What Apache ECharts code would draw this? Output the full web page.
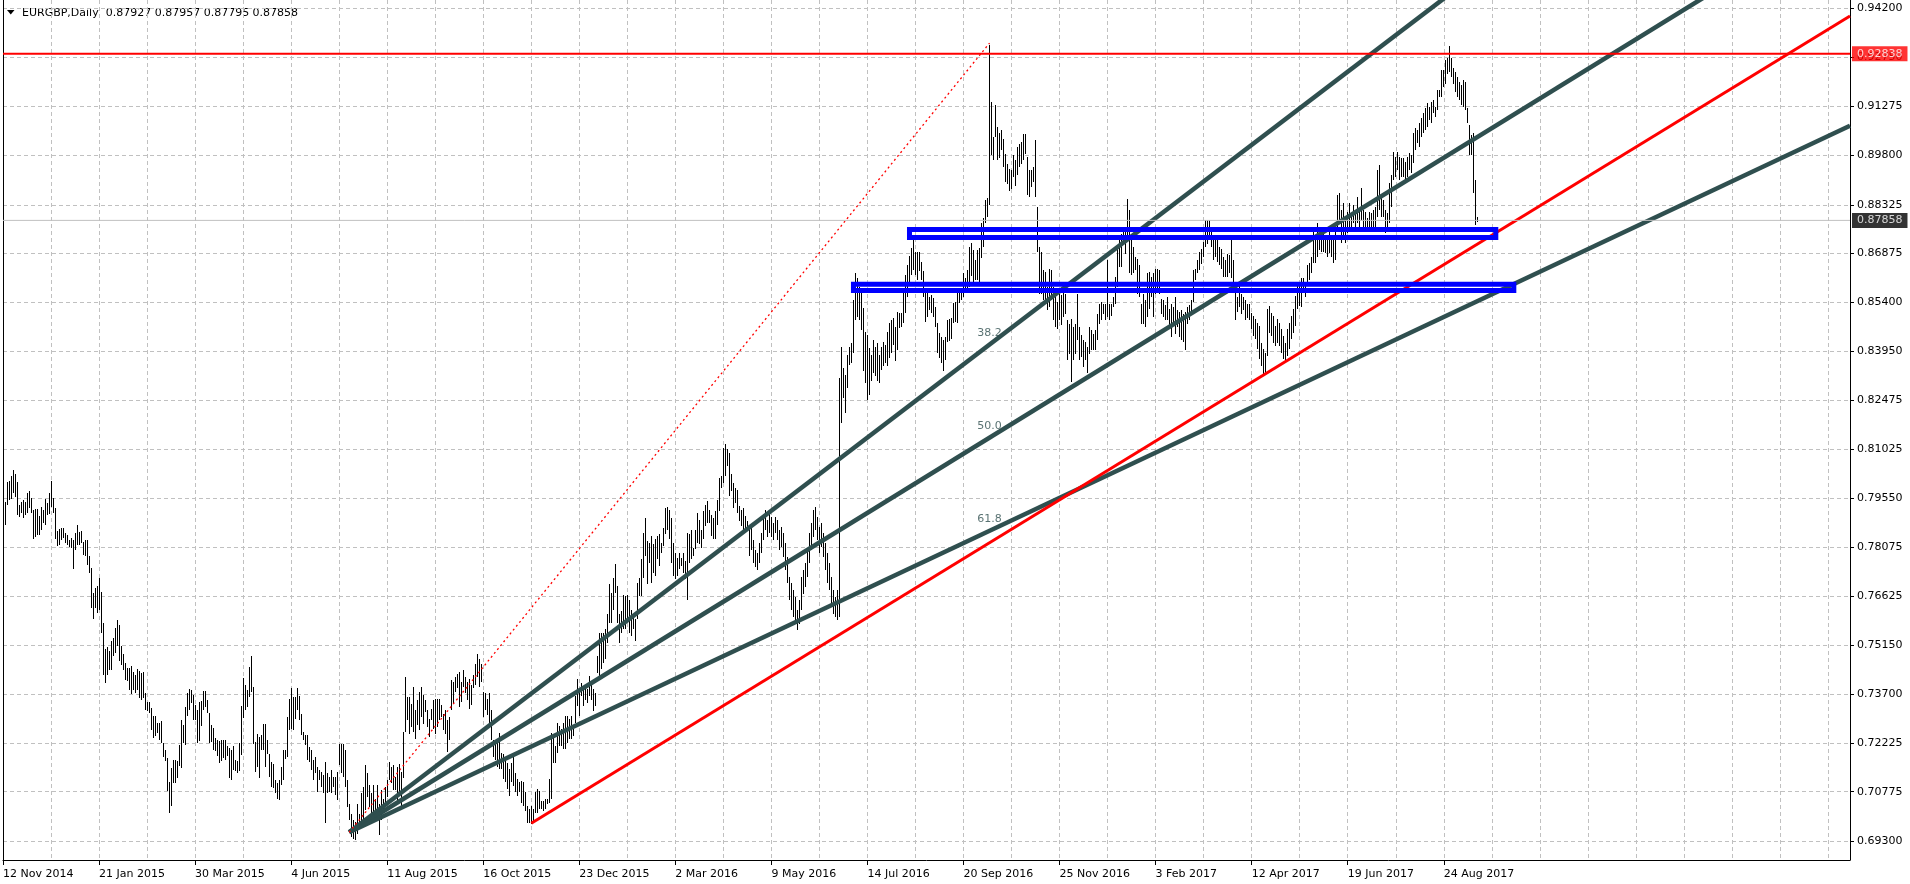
<!DOCTYPE html>
<html><head><meta charset="utf-8">
<script src="https://cdn.jsdelivr.net/npm/echarts@6/dist/echarts.min.js"></script>
<style>html,body{margin:0;padding:0;background:#fff}#c{width:1910px;height:884px}</style>
</head><body><div id="c"></div>
<script>
const chartTitle = 'EURGBP,Daily';
const lastOHLC = ['0.87927', '0.87957', '0.87795', '0.87858'];
const dateLabels = ['12 Nov 2014','21 Jan 2015','30 Mar 2015','4 Jun 2015','11 Aug 2015','16 Oct 2015','23 Dec 2015','2 Mar 2016','9 May 2016','14 Jul 2016','20 Sep 2016','25 Nov 2016','3 Feb 2017','12 Apr 2017','19 Jun 2017','24 Aug 2017'];
const yTickLabels = ['0.94200','0.92750','0.91275','0.89800','0.88325','0.86875','0.85400','0.83950','0.82475','0.81025','0.79550','0.78075','0.76625','0.75150','0.73700','0.72225','0.70775','0.69300'];
const resistanceLevel = 0.92838;
const bidPrice = 0.87858;
const fanStart = [173, 0.6956];
const fanEnd = [493, 0.9316];
const fanLevels = [38.2, 50.0, 61.8];
const redTrend = [[264, 0.6983], [923, 0.9397]];
const zoneUpper = { x: [453, 746], y: [0.87588, 0.87349] };
const zoneLower = { x: [425, 755], y: [0.85946, 0.85764] };

// daily bars [high, low]
const barsA = [[0.7890,0.7801],[0.7945,0.7875],[0.8002,0.7935],[0.8005,0.7950],[0.8022,0.7952],[0.8040,0.7970],[0.8028,0.7960],[0.8002,0.7905],[0.7935,0.7900],[0.7945,0.7910],
[0.7950,0.7895],[0.7943,0.7905],[0.7970,0.7910],[0.7977,0.7925],[0.7955,0.7910],[0.7920,0.7832],[0.7922,0.7838],[0.7922,0.7845],[0.7902,0.7845],[0.7930,0.7860],
[0.7920,0.7880],[0.7952,0.7875],[0.7940,0.7905],[0.7970,0.7908],[0.8007,0.7930],[0.7955,0.7910],[0.7925,0.7832],[0.7858,0.7811],[0.7863,0.7816],[0.7865,0.7830],
[0.7865,0.7835],[0.7852,0.7821],[0.7845,0.7816],[0.7830,0.7809],[0.7835,0.7806],[0.7830,0.7743],[0.7850,0.7801],[0.7875,0.7816],[0.7855,0.7816],[0.7858,0.7821],
[0.7823,0.7786],[0.7830,0.7781],[0.7830,0.7756],[0.7783,0.7731],[0.7746,0.7626],[0.7671,0.7594],[0.7686,0.7626],[0.7693,0.7611],[0.7716,0.7621],[0.7676,0.7552],
[0.7582,0.7427],[0.7504,0.7402],[0.7510,0.7427],[0.7497,0.7442],[0.7527,0.7442],[0.7537,0.7482],[0.7567,0.7492],[0.7591,0.7512],[0.7575,0.7467],[0.7512,0.7457],
[0.7489,0.7442],[0.7462,0.7412],[0.7447,0.7407],[0.7447,0.7382],[0.7452,0.7370],[0.7435,0.7382],[0.7427,0.7372],[0.7444,0.7382],[0.7437,0.7357],[0.7432,0.7352],
[0.7434,0.7357],[0.7372,0.7323],[0.7347,0.7318],[0.7347,0.7313],[0.7327,0.7263],[0.7303,0.7238],[0.7303,0.7243],[0.7283,0.7253],[0.7283,0.7233],[0.7288,0.7223],
[0.7223,0.7181],[0.7203,0.7168],[0.7178,0.7078],[0.7105,0.7014],[0.7148,0.7034],[0.7173,0.7103],[0.7173,0.7103],[0.7168,0.7118],[0.7218,0.7153],[0.7293,0.7148],
[0.7278,0.7223],[0.7332,0.7218],[0.7372,0.7303],[0.7384,0.7321],[0.7382,0.7342],[0.7367,0.7293],[0.7337,0.7293],[0.7323,0.7223],[0.7347,0.7228],[0.7350,0.7273],
[0.7379,0.7323],[0.7377,0.7332],[0.7352,0.7313],[0.7313,0.7223],[0.7278,0.7225],[0.7268,0.7203],[0.7238,0.7198],[0.7233,0.7183],[0.7228,0.7163],[0.7233,0.7168],
[0.7233,0.7178],[0.7231,0.7173],[0.7213,0.7183],[0.7208,0.7118],[0.7203,0.7113],[0.7213,0.7143],[0.7173,0.7138],[0.7168,0.7133],[0.7223,0.7138],[0.7335,0.7188],
[0.7417,0.7298],[0.7397,0.7323],[0.7382,0.7332],[0.7450,0.7362]];
const barsB = [[0.7482,0.7376],[0.7390,0.7221],[0.7226,0.7137],[0.7251,0.7152],[0.7241,0.7117],[0.7246,0.7201],[0.7281,0.7201],[0.7281,0.7152],[0.7231,0.7191],[0.7191,0.7122],
[0.7166,0.7092],[0.7161,0.7087],[0.7112,0.7072],[0.7102,0.7057],[0.7112,0.7052],[0.7151,0.7097],[0.7201,0.7112],[0.7201,0.7176],[0.7301,0.7181],[0.7356,0.7261],
[0.7386,0.7266],[0.7361,0.7261],[0.7361,0.7296],[0.7386,0.7321],[0.7363,0.7291],[0.7311,0.7246],[0.7256,0.7231],[0.7246,0.7216],[0.7246,0.7171],[0.7211,0.7166],
[0.7201,0.7142],[0.7171,0.7112],[0.7181,0.7132],[0.7151,0.7077],[0.7142,0.7112],[0.7137,0.7092],[0.7127,0.7072],[0.7166,0.6984],[0.7132,0.7072],[0.7122,0.7077],
[0.7142,0.7072],[0.7122,0.7092],[0.7122,0.7067],[0.7137,0.7052],[0.7221,0.7157],[0.7221,0.7132],[0.7221,0.7122],[0.7201,0.7092],[0.7112,0.7032],[0.7042,0.6992],
[0.7012,0.6942],[0.6992,0.6937],[0.6987,0.6932],[0.7042,0.6952],[0.7012,0.6967],[0.7072,0.6972],[0.7092,0.6992],[0.7156,0.7022],[0.7132,0.7062],[0.7097,0.7032],
[0.7072,0.7002],[0.7097,0.6992],[0.7057,0.7017],[0.7097,0.6992],[0.7042,0.6947],[0.7082,0.6992],[0.7057,0.7022],[0.7092,0.7032],[0.7112,0.7062],[0.7166,0.7112],
[0.7151,0.7102],[0.7156,0.7082],[0.7122,0.7082],[0.7151,0.7052],[0.7161,0.7072],[0.7137,0.7032],[0.7256,0.7117],[0.7420,0.7256],[0.7361,0.7291],[0.7361,0.7251],
[0.7341,0.7271],[0.7391,0.7256],[0.7321,0.7236],[0.7351,0.7276],[0.7376,0.7261],[0.7391,0.7301],[0.7366,0.7281],[0.7351,0.7316],[0.7321,0.7271],[0.7296,0.7241],
[0.7326,0.7291],[0.7351,0.7266],[0.7356,0.7251],[0.7356,0.7271],[0.7356,0.7291],[0.7336,0.7301],[0.7311,0.7261],[0.7321,0.7251],[0.7291,0.7196],[0.7301,0.7231],
[0.7410,0.7321],[0.7405,0.7341],[0.7420,0.7376],[0.7430,0.7386],[0.7435,0.7331],[0.7405,0.7346],[0.7440,0.7391],[0.7420,0.7371],[0.7405,0.7351],[0.7415,0.7326],
[0.7395,0.7336],[0.7425,0.7386],[0.7460,0.7396],[0.7490,0.7420],[0.7475,0.7391],[0.7460,0.7405],[0.7376,0.7301],[0.7371,0.7321],[0.7356,0.7306],[0.7371,0.7281],
[0.7321,0.7231],[0.7231,0.7181],[0.7221,0.7171],[0.7231,0.7152]];
const barsC = [[0.7254,0.7144],[0.7194,0.7144],[0.7189,0.7115],[0.7174,0.7105],[0.7164,0.7085],[0.7144,0.7065],[0.7164,0.7105],[0.7194,0.7095],[0.7134,0.7075],[0.7115,0.7065],
[0.7105,0.7075],[0.7110,0.7045],[0.7105,0.7035],[0.7075,0.7020],[0.7035,0.6985],[0.7025,0.6985],[0.7035,0.6980],[0.7025,0.6990],[0.7075,0.7015],[0.7085,0.7015],
[0.7080,0.7025],[0.7050,0.7025],[0.7050,0.7020],[0.7055,0.7025],[0.7055,0.7040],[0.7115,0.7045],[0.7254,0.7055],[0.7249,0.7164],[0.7214,0.7164],[0.7284,0.7194],
[0.7274,0.7214],[0.7264,0.7214],[0.7284,0.7204],[0.7304,0.7204],[0.7304,0.7224],[0.7294,0.7234],[0.7304,0.7234],[0.7274,0.7244],[0.7363,0.7284],[0.7413,0.7334],
[0.7383,0.7304],[0.7403,0.7363],[0.7383,0.7334],[0.7393,0.7353],[0.7383,0.7344],[0.7423,0.7363],[0.7403,0.7353],[0.7383,0.7319],[0.7373,0.7334],[0.7483,0.7433],
[0.7553,0.7423],[0.7553,0.7443],[0.7553,0.7463],[0.7563,0.7473],[0.7608,0.7523],[0.7697,0.7583],[0.7672,0.7583],[0.7717,0.7622],[0.7757,0.7672],[0.7692,0.7583],
[0.7608,0.7523],[0.7617,0.7553],[0.7667,0.7563],[0.7662,0.7563],[0.7667,0.7593],[0.7652,0.7553],[0.7622,0.7543],[0.7603,0.7563],[0.7593,0.7528],[0.7702,0.7593],
[0.7717,0.7662],[0.7772,0.7662],[0.7852,0.7717],[0.7896,0.7782],[0.7827,0.7697],[0.7822,0.7762],[0.7842,0.7702],[0.7817,0.7732],[0.7832,0.7722],[0.7842,0.7772],
[0.7847,0.7752],[0.7822,0.7792],[0.7866,0.7812],[0.7926,0.7847],[0.7929,0.7861],[0.7921,0.7832],[0.7896,0.7762],[0.7822,0.7722],[0.7792,0.7712],[0.7777,0.7722],
[0.7792,0.7742],[0.7777,0.7752],[0.7792,0.7732],[0.7767,0.7712],[0.7852,0.7652],[0.7847,0.7762],[0.7861,0.7772],[0.7807,0.7782],[0.7861,0.7802],[0.7911,0.7822],
[0.7891,0.7817],[0.7861,0.7807],[0.7916,0.7832],[0.7936,0.7871],[0.7946,0.7881],[0.7921,0.7881],[0.7906,0.7842],[0.7896,0.7832],[0.7916,0.7832],[0.7951,0.7876],
[0.8016,0.7916],[0.8021,0.7986],[0.8106,0.8001],[0.8116,0.8021],[0.8101,0.8051],[0.8091,0.7961],[0.8026,0.7976],[0.8001,0.7926],[0.7986,0.7941],[0.7981,0.7911],
[0.7931,0.7886],[0.7921,0.7871],[0.7926,0.7861],[0.7901,0.7861],[0.7886,0.7861],[0.7871,0.7782]];
const barsD = [[0.7870,0.7800],[0.7830,0.7760],[0.7800,0.7750],[0.7790,0.7740],[0.7820,0.7760],[0.7850,0.7790],[0.7900,0.7830],[0.7920,0.7860],[0.7890,0.7840],[0.7910,0.7850],
[0.7900,0.7840],[0.7880,0.7830],[0.7900,0.7850],[0.7890,0.7830],[0.7860,0.7800],[0.7870,0.7810],[0.7850,0.7780],[0.7820,0.7740],[0.7780,0.7700],[0.7720,0.7650],
[0.7700,0.7620],[0.7680,0.7600],[0.7660,0.7580],[0.7620,0.7560],[0.7650,0.7580],[0.7720,0.7620],[0.7740,0.7670],[0.7760,0.7690],[0.7800,0.7720],[0.7850,0.7760],
[0.7880,0.7800],[0.7920,0.7840],[0.7930,0.7860],[0.7900,0.7830],[0.7870,0.7790],[0.7880,0.7810],[0.7850,0.7780],[0.7820,0.7740],[0.7790,0.7700],[0.7760,0.7680],
[0.7720,0.7640],[0.7680,0.7610],[0.7660,0.7600],[0.7680,0.7590],[0.8315,0.7600]];
const barsE = [[0.8408,0.8179],[0.8344,0.8254],[0.8324,0.8209],[0.8384,0.8284],[0.8408,0.8354],[0.8420,0.8360],[0.8548,0.8388],[0.8628,0.8488],[0.8613,0.8498],[0.8588,0.8488],
[0.8568,0.8458],[0.8523,0.8334],[0.8453,0.8299],[0.8443,0.8249],[0.8404,0.8264],[0.8384,0.8304],[0.8428,0.8329],[0.8408,0.8319],[0.8418,0.8304],[0.8384,0.8299],
[0.8408,0.8339],[0.8423,0.8349],[0.8413,0.8359],[0.8453,0.8349],[0.8478,0.8374],[0.8488,0.8389],[0.8493,0.8413],[0.8468,0.8364],[0.8513,0.8399],[0.8508,0.8463],
[0.8508,0.8468],[0.8568,0.8478],[0.8623,0.8508],[0.8653,0.8558],[0.8678,0.8598],[0.8702,0.8623],[0.8727,0.8638],[0.8692,0.8623],[0.8692,0.8608],[0.8692,0.8633],
[0.8662,0.8608],[0.8633,0.8558],[0.8568,0.8483],[0.8568,0.8498],[0.8558,0.8518],[0.8563,0.8508],[0.8553,0.8498],[0.8528,0.8468],[0.8478,0.8389],[0.8448,0.8374],
[0.8438,0.8359],[0.8428,0.8334],[0.8438,0.8369],[0.8488,0.8423],[0.8490,0.8425],[0.8495,0.8430],[0.8538,0.8478],[0.8543,0.8483],[0.8568,0.8478],[0.8578,0.8538],
[0.8578,0.8548],[0.8628,0.8558],[0.8613,0.8568],[0.8638,0.8568],[0.8707,0.8588],[0.8717,0.8618],[0.8697,0.8598],[0.8668,0.8608],[0.8697,0.8608],[0.8702,0.8598],
[0.8777,0.8672],[0.8792,0.8707],[0.8847,0.8777],[0.8852,0.8797],[0.9310,0.8832],[0.9141,0.8981],[0.9036,0.8966],[0.9131,0.9036],[0.9066,0.8966],[0.9046,0.8971]];
const barsF = [[0.9055,0.8995],[0.9030,0.8945],[0.8985,0.8900],[0.8955,0.8895],[0.8940,0.8875],[0.8935,0.8880],[0.8980,0.8915],[0.8965,0.8890],[0.9005,0.8920],[0.9015,0.8945],
[0.9020,0.8955],[0.9045,0.8965],[0.9045,0.8985],[0.8975,0.8861],[0.8935,0.8856],[0.8935,0.8885],[0.8945,0.8900],[0.9025,0.8856],[0.8826,0.8691],[0.8706,0.8567],
[0.8691,0.8567],[0.8636,0.8547],[0.8631,0.8542],[0.8587,0.8517],[0.8641,0.8527],[0.8636,0.8547],[0.8587,0.8487],[0.8567,0.8467],[0.8542,0.8462],[0.8567,0.8487],
[0.8562,0.8472],[0.8602,0.8497],[0.8567,0.8507],[0.8487,0.8367],[0.8477,0.8387],[0.8492,0.8303],[0.8467,0.8367],[0.8477,0.8387],[0.8567,0.8427],[0.8467,0.8367],
[0.8442,0.8377],[0.8427,0.8348],[0.8422,0.8367],[0.8407,0.8328],[0.8467,0.8387],[0.8457,0.8397],[0.8447,0.8397],[0.8457,0.8397],[0.8507,0.8427],[0.8537,0.8477],
[0.8542,0.8487],[0.8537,0.8507],[0.8537,0.8487],[0.8666,0.8497],[0.8537,0.8487],[0.8535,0.8500],[0.8557,0.8527],[0.8617,0.8537],[0.8706,0.8587],[0.8726,0.8646],
[0.8746,0.8646],[0.8756,0.8716],[0.8766,0.8686],[0.8851,0.8741],[0.8816,0.8627],[0.8731,0.8622],[0.8706,0.8627],[0.8676,0.8637],[0.8671,0.8567],[0.8651,0.8557],
[0.8537,0.8477],[0.8567,0.8477],[0.8547,0.8467],[0.8627,0.8497],[0.8631,0.8522],[0.8617,0.8557],[0.8627,0.8497],[0.8641,0.8567],[0.8641,0.8577],[0.8636,0.8567],
[0.8552,0.8507],[0.8547,0.8497],[0.8532,0.8487],[0.8557,0.8487],[0.8522,0.8467],[0.8537,0.8437],[0.8527,0.8477],[0.8557,0.8447],[0.8517,0.8467],[0.8512,0.8437],
[0.8517,0.8427],[0.8507,0.8422],[0.8512,0.8397],[0.8527,0.8477],[0.8532,0.8487],[0.8547,0.8507],[0.8636,0.8542],[0.8641,0.8607],[0.8666,0.8627],[0.8691,0.8637],
[0.8701,0.8656],[0.8721,0.8676],[0.8786,0.8706],[0.8786,0.8716],[0.8786,0.8726],[0.8756,0.8706],[0.8726,0.8666],[0.8731,0.8676],[0.8731,0.8661],[0.8706,0.8651],
[0.8701,0.8641],[0.8676,0.8617],[0.8666,0.8617],[0.8686,0.8617],[0.8681,0.8627],[0.8731,0.8612],[0.8666,0.8587],[0.8577,0.8487],[0.8557,0.8512],[0.8592,0.8527],
[0.8567,0.8507],[0.8557,0.8517],[0.8547,0.8487],[0.8535,0.8495],[0.8537,0.8487]];
const barsG = [[0.8510,0.8460],[0.8500,0.8440],[0.8490,0.8430],[0.8480,0.8400],[0.8470,0.8370],[0.8420,0.8350],[0.8400,0.8320],[0.8390,0.8330],[0.8520,0.8380],[0.8530,0.8450],
[0.8510,0.8440],[0.8500,0.8420],[0.8470,0.8410],[0.8490,0.8420],[0.8480,0.8410],[0.8460,0.8390],[0.8440,0.8370],[0.8420,0.8360],[0.8460,0.8380],[0.8480,0.8400],
[0.8500,0.8430],[0.8520,0.8450],[0.8560,0.8470],[0.8590,0.8520],[0.8600,0.8530],[0.8613,0.8528],[0.8613,0.8568],[0.8598,0.8558],[0.8653,0.8598],[0.8658,0.8608],
[0.8677,0.8628],[0.8757,0.8658],[0.8742,0.8658],[0.8777,0.8677],[0.8732,0.8697],[0.8757,0.8692],[0.8767,0.8692],[0.8737,0.8687],[0.8732,0.8677],[0.8757,0.8687],
[0.8737,0.8677],[0.8732,0.8658],[0.8757,0.8667],[0.8862,0.8757],[0.8867,0.8777],[0.8817,0.8717],[0.8837,0.8737],[0.8797,0.8717],[0.8812,0.8747],[0.8837,0.8757],
[0.8807,0.8757],[0.8832,0.8777],[0.8812,0.8757],[0.8857,0.8777],[0.8817,0.8767],[0.8882,0.8787],[0.8817,0.8767],[0.8812,0.8757],[0.8792,0.8757],[0.8812,0.8767],
[0.8807,0.8762],[0.8817,0.8767],[0.8827,0.8767],[0.8936,0.8797],[0.8951,0.8817],[0.8857,0.8797],[0.8847,0.8797],[0.8817,0.8747],[0.8807,0.8757],[0.8897,0.8777],
[0.8922,0.8827],[0.8991,0.8906],[0.8976,0.8916],[0.8991,0.8936],[0.8976,0.8906],[0.8971,0.8916],[0.8971,0.8916],[0.8961,0.8906],[0.8976,0.8916],[0.8986,0.8936],
[0.8981,0.8926],[0.9046,0.8956],[0.9061,0.8996],[0.9056,0.9016],[0.9076,0.9006],[0.9091,0.9036],[0.9106,0.9046],[0.9121,0.9056],[0.9136,0.9066],[0.9126,0.9086],
[0.9141,0.9076],[0.9146,0.9106],[0.9126,0.9096],[0.9175,0.9116],[0.9175,0.9155],[0.9235,0.9155],[0.9235,0.9185],[0.9265,0.9195],[0.9270,0.9225],[0.9307,0.9230],
[0.9270,0.9215],[0.9240,0.9195],[0.9230,0.9170],[0.9215,0.9155],[0.9200,0.9145],[0.9190,0.9131],[0.9205,0.9126],[0.9200,0.9116],[0.9121,0.9076],[0.9071,0.8981],
[0.9041,0.8981],[0.9046,0.8867],[0.8906,0.8772],[0.87957,0.87795]];

// ---------- build ----------
const FONT = 'DejaVu Sans';
const SLOTS = 924, LABEL_STEP = 48, GRID_STEP = 24;
const Y_MIN = 0.68731, Y_MAX = 0.94448;
const bars = [].concat(barsA, barsB, barsC, barsD, barsE, barsF, barsG);
const barData = bars.map((b, i) => [i, b[0], b[1]]);
const cats = [];
for (let i = 0; i < SLOTS; i++) cats.push(i % LABEL_STEP === 0 && dateLabels[i / LABEL_STEP] ? dateLabels[i / LABEL_STEP] : '');
const lastLabelIdx = (dateLabels.length - 1) * LABEL_STEP;

const fanSeries = fanLevels.map(r => {
  const lvl = fanEnd[1] - r / 100 * (fanEnd[1] - fanStart[1]);
  const slope = (lvl - fanStart[1]) / (fanEnd[0] - fanStart[0]);
  return {
    type: 'line', data: [[fanStart[0], fanStart[1]], [SLOTS - 1, fanStart[1] + slope * (SLOTS - 1 - fanStart[0])]],
    symbol: 'none', silent: true, z: 4, clip: true,
    lineStyle: { color: '#2F4F4F', width: 4.5, cap: 'butt' }
  };
});
const fanLabelData = fanLevels.map(r => ({ value: [fanEnd[0], fanEnd[1] - r / 100 * (fanEnd[1] - fanStart[1])], name: r.toFixed(1) }));

function rectPath(z) {
  return [[z.x[0], z.y[0]], [z.x[1], z.y[0]], [z.x[1], z.y[1]], [z.x[0], z.y[1]], [z.x[0], z.y[0]]];
}
function zoneSeries(z) {
  return { type: 'line', data: rectPath(z), symbol: 'none', silent: true, z: 6, clip: false,
    lineStyle: { color: '#0000FF', width: 5, join: 'miter', cap: 'square' } };
}
function hLine(price, color, width) {
  return { type: 'line', data: [[0, price], [SLOTS - 1, price]], symbol: 'none', silent: true, z: 5, clip: false,
    lineStyle: { color: color, width: width, type: 'solid' } };
}
function priceTag(price, bg) {
  return { type: 'scatter', data: [[SLOTS - 1, price]], symbolSize: 0, silent: true, z: 20, clip: false,
    label: { show: true, position: 'right', distance: 2, formatter: price.toFixed(5), color: '#fff', backgroundColor: bg,
      padding: [2, 5, 1, 5], fontSize: 11, fontFamily: FONT, lineHeight: 12 } };
}

const chart = echarts.init(document.getElementById('c'), null, { renderer: 'canvas' });
chart.setOption({
  animation: false,
  backgroundColor: '#ffffff',
  textStyle: { fontFamily: FONT },
  grid: { left: 3, top: 0, width: 1847, height: 860, containLabel: false },
  xAxis: {
    type: 'category', data: cats, boundaryGap: false,
    axisLine: { show: true, lineStyle: { color: '#000', width: 1 } },
    axisTick: { show: true, length: 5, lineStyle: { color: '#000' }, interval: (idx) => idx % LABEL_STEP === 0 && idx <= lastLabelIdx },
    axisLabel: { show: true, interval: 0, align: 'left', margin: 9, color: '#000', fontSize: 11, fontFamily: FONT, showMinLabel: true, showMaxLabel: true, hideOverlap: false },
    splitLine: { show: true, interval: (idx) => idx % GRID_STEP === 0 && idx > 0, lineStyle: { color: '#c0c0c0', type: [4, 3], width: 1 } }
  },
  yAxis: [{
    type: 'value', position: 'right', min: Y_MIN, max: Y_MAX,
    axisLine: { show: true, lineStyle: { color: '#000', width: 1 } },
    axisTick: { show: true, length: 4, inside: false, lineStyle: { color: '#000' }, customValues: yTickLabels.map(Number) },
    axisLabel: { show: true, margin: 7, color: '#000', fontSize: 11, fontFamily: FONT, customValues: yTickLabels.map(Number), formatter: v => v.toFixed(5), showMinLabel: true, showMaxLabel: true },
    splitLine: { show: true, lineStyle: { color: '#c0c0c0', type: [4, 3], width: 1 } }
  }, {
    type: 'value', position: 'left', min: Y_MIN, max: Y_MAX,
    axisLine: { show: true, onZero: false, lineStyle: { color: '#000', width: 1 } },
    axisTick: { show: false }, axisLabel: { show: false }, splitLine: { show: false }
  }],
  graphic: [
    { type: 'polygon', shape: { points: [[7, 10], [14.5, 10], [10.75, 14.5]] }, style: { fill: '#000' }, silent: true },
    { type: 'text', x: 22, y: 13, style: { text: chartTitle + '  ' + lastOHLC.join(' '), fill: '#000', font: '11px "' + FONT + '"', textVerticalAlign: 'middle' }, silent: true }
  ],
  series: [
    {
      type: 'custom', name: 'bars', data: barData, clip: true, z: 3, silent: true,
      encode: { x: 0, y: [1, 2] },
      renderItem: (params, api) => {
        const i = api.value(0);
        const top = api.coord([i, api.value(1)]);
        const bot = api.coord([i, api.value(2)]);
        const x = Math.round(top[0] - 0.5);
        const y0 = Math.round(top[1]);
        const y1 = Math.round(bot[1]);
        return { type: 'rect', shape: { x: x, y: y0, width: 1, height: Math.max(1, y1 - y0) }, style: { fill: '#000' } };
      }
    },
    hLine(bidPrice, '#c0c0c0', 1),
    hLine(resistanceLevel, '#ff0000', 2),
    ...fanSeries,
    {
      type: 'line', data: [fanStart, fanEnd], symbol: 'none', silent: true, z: 4,
      lineStyle: { color: '#ff0000', width: 1.3, type: [2, 3] }
    },
    {
      type: 'line', data: redTrend, symbol: 'none', silent: true, z: 4, clip: true,
      lineStyle: { color: '#ff0000', width: 3 }
    },
    zoneSeries(zoneUpper),
    zoneSeries(zoneLower),
    {
      type: 'scatter', data: fanLabelData, symbolSize: 0, silent: true, z: 7,
      label: { show: true, position: 'top', distance: 6, formatter: p => p.name, color: '#2F4F4F', fontSize: 11, fontFamily: FONT }
    },
    priceTag(bidPrice, '#000000'),
    priceTag(resistanceLevel, '#ff0000')
  ]
});
</script></body></html>
